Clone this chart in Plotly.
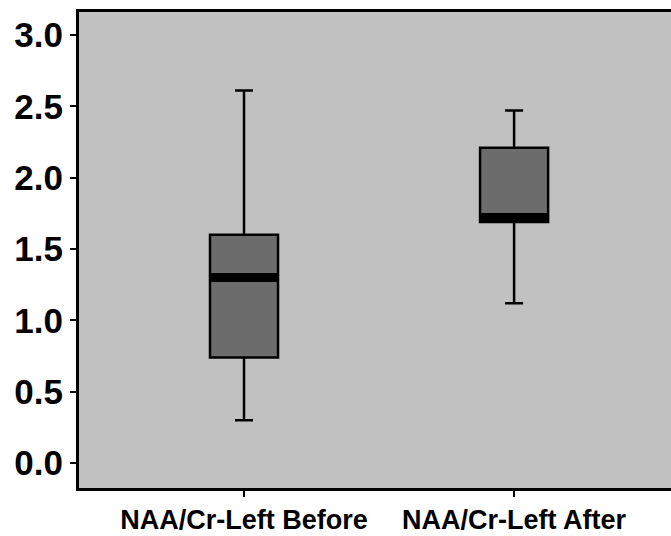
import plotly.graph_objects as go

categories = ["NAA/Cr-Left Before", "NAA/Cr-Left After"]
lower_whisker = [0.30, 1.12]
q1 = [0.74, 1.69]
median = [1.30, 1.72]
q3 = [1.60, 2.21]
upper_whisker = [2.61, 2.47]
y_ticks = [0.0, 0.5, 1.0, 1.5, 2.0, 2.5, 3.0]

xpos = list(range(len(categories)))
box_w = 0.252

fig = go.Figure()
fig.add_trace(go.Box(
    x=xpos, q1=q1, median=median, q3=q3,
    lowerfence=lower_whisker, upperfence=upper_whisker,
    width=box_w, whiskerwidth=0.265,
    fillcolor="#6c6c6c", line=dict(color="black", width=2.5),
    boxpoints=False, hoverinfo="skip", showlegend=False,
))
for i, m in enumerate(median):
    fig.add_trace(go.Scatter(
        x=[xpos[i] - box_w / 2 + 0.004, xpos[i] + box_w / 2 - 0.004], y=[m, m],
        mode="lines", line=dict(color="black", width=9),
        showlegend=False, hoverinfo="skip",
    ))

fig.update_layout(
    width=671, height=536,
    margin=dict(l=79, r=0, t=12, b=48),
    paper_bgcolor="white", plot_bgcolor="#c1c1c1",
    font=dict(family="Liberation Sans, Arial, sans-serif", color="black"),
)
fig.update_xaxes(
    range=[-0.611, 1.581], tickvals=xpos, ticktext=[f"<b>{c}</b>" for c in categories],
    tickfont=dict(size=27), ticks="outside", ticklen=6, tickwidth=1.5, tickcolor="black",
    showline=True, linecolor="black", linewidth=3, mirror=True,
    showgrid=False, zeroline=False, automargin=False,
)
fig.update_yaxes(
    range=[-0.175, 3.161], tickvals=y_ticks, ticktext=[f"<b>{v:.1f}</b>" for v in y_ticks],
    tickfont=dict(size=35), ticks="outside", ticklen=6, tickwidth=1.5, tickcolor="black",
    showline=True, linecolor="black", linewidth=3, mirror=False,
    showgrid=False, zeroline=False, automargin=False,
)
fig.write_html("out.html", config={"displayModeBar": False},
               post_script="document.body.style.margin='0';")
